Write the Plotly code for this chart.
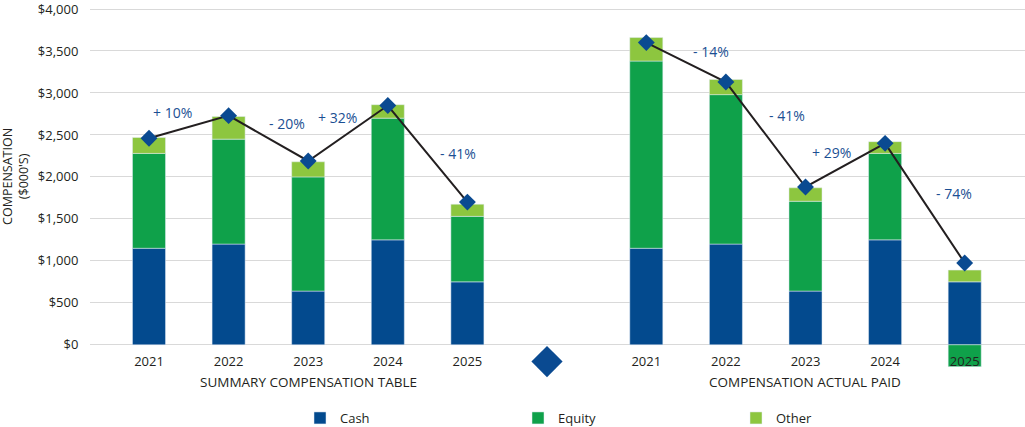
import plotly.graph_objects as go

# ---------------- data ----------------
years = ["2021", "2022", "2023", "2024", "2025"]
gap_category = " "

sct_cash = [1150, 1200, 640, 1250, 750]
sct_equity = [1130, 1250, 1360, 1450, 780]
sct_other = [190, 270, 180, 160, 145]
sct_total_marker = [2460, 2730, 2190, 2850, 1700]
sct_change_labels = ["+ 10%", "- 20%", "+ 32%", "- 41%"]

cap_cash = [1150, 1200, 640, 1250, 750]
cap_equity = [2230, 1780, 1070, 1030, -260]
cap_other = [280, 180, 160, 140, 140]
cap_total_marker = [3600, 3130, 1880, 2400, 975]
cap_change_labels = ["- 14%", "- 41%", "+ 29%", "- 74%"]

separator_marker_value = [-200]

group_labels = ["SUMMARY COMPENSATION TABLE", "COMPENSATION ACTUAL PAID"]
y_ticks = [0, 500, 1000, 1500, 2000, 2500, 3000, 3500, 4000]
y_tick_text = ["$" + format(v, ",") for v in y_ticks]

# ---------------- styles ----------------
C_CASH = "#034a8e"
C_EQUITY = "#0fa14a"
C_OTHER = "#8dc63f"
C_DIAMOND = "#0a4a91"
C_LINE = "#231f20"
C_LABEL = "#1b4f93"
FONT = "Open Sans"
TXT = "#231f20"

W, H = 1025, 427
M_L, M_R, M_T, M_B = 90, 0, 8, 57
Y_MIN, Y_MAX = -300, 4012
split = 0.5348

# pixel offsets of the change labels relative to segment midpoints
sct_label_shift = [(-16, 14), (19, 15), (-11, 16), (30, 0)]
cap_label_shift = [(25, 11), (21, 19), (-14, 13), (29, 10)]

fig = go.Figure()

def add_bars(x, cash, equity, other, xa, show):
    fig.add_trace(go.Bar(x=x, y=cash, name="Cash", marker_color=C_CASH,
                         xaxis=xa, yaxis="y", showlegend=show, legendgroup="c"))
    fig.add_trace(go.Bar(x=x, y=equity, name="Equity", marker_color=C_EQUITY,
                         xaxis=xa, yaxis="y", showlegend=show, legendgroup="e"))
    fig.add_trace(go.Bar(x=x, y=other, name="Other", marker_color=C_OTHER,
                         xaxis=xa, yaxis="y", showlegend=show, legendgroup="o"))

add_bars(years, sct_cash, sct_equity, sct_other, "x", True)
add_bars(years, cap_cash, cap_equity, cap_other, "x2", False)

line_style = dict(mode="lines+markers", line=dict(color=C_LINE, width=2),
                  marker=dict(symbol="diamond", size=13, color=C_DIAMOND),
                  showlegend=False, hoverinfo="skip")
fig.add_trace(go.Scatter(x=years, y=sct_total_marker, xaxis="x", yaxis="y", **line_style))
fig.add_trace(go.Scatter(x=years, y=cap_total_marker, xaxis="x2", yaxis="y", **line_style))
fig.add_trace(go.Scatter(x=[gap_category], y=separator_marker_value, xaxis="x", yaxis="y",
                         mode="markers", marker=dict(symbol="diamond", size=24, color=C_DIAMOND),
                         showlegend=False, cliponaxis=False, hoverinfo="skip"))

annotations = []
for xref, vals, labels, shifts in [("x", sct_total_marker, sct_change_labels, sct_label_shift),
                                   ("x2", cap_total_marker, cap_change_labels, cap_label_shift)]:
    for i, lab in enumerate(labels):
        annotations.append(dict(x=i + 0.5, y=(vals[i] + vals[i + 1]) / 2, xref=xref, yref="y",
                                text=lab, showarrow=False, xshift=shifts[i][0], yshift=shifts[i][1],
                                font=dict(family=FONT, size=14, color=C_LABEL)))

for xref, lab in zip(["x", "x2"], group_labels):
    annotations.append(dict(x=2, y=0, xref=xref, yref="y", yanchor="top", text=lab,
                            showarrow=False, yshift=-26,
                            font=dict(family=FONT, size=13.5, color=TXT)))

annotations.append(dict(x=-74 / (W - M_L - M_R), y=2000, xref="paper", yref="y",
                        xanchor="center", yanchor="middle",
                        text="COMPENSATION<br>($000'S)", textangle=-90, showarrow=False,
                        font=dict(family=FONT, size=12.5, color=TXT)))

zero_pos = (0 - Y_MIN) / (Y_MAX - Y_MIN)
px_per_cat = 79.6
plot_w = W - M_L - M_R
left_w = split * plot_w
right_w = plot_w - left_w
first_center_left = 149 - M_L
first_center_right = 646.3 - (M_L + left_w)

xa_common = dict(type="category", showgrid=False, zeroline=False, showline=False,
                 ticks="outside", ticklen=5, tickcolor="rgba(0,0,0,0)", automargin=False,
                 tickfont=dict(family=FONT, size=13, color=TXT), anchor="free",
                 position=zero_pos, layer="above traces")

fig.update_layout(
    width=W, height=H, margin=dict(l=M_L, r=M_R, t=M_T, b=M_B, autoexpand=False),
    paper_bgcolor="white", plot_bgcolor="white",
    barmode="relative", bargap=0.585,
    xaxis=dict(domain=[0, split], categoryorder="array",
               categoryarray=years + [gap_category],
               range=[-first_center_left / px_per_cat,
                      (left_w - first_center_left) / px_per_cat], **xa_common),
    xaxis2=dict(domain=[split, 1], categoryorder="array", categoryarray=years,
                range=[-first_center_right / px_per_cat,
                       (right_w - first_center_right) / px_per_cat], **xa_common),
    yaxis=dict(range=[Y_MIN, Y_MAX], tickmode="array", tickvals=y_ticks, ticktext=y_tick_text,
               showgrid=True, gridcolor="#d9d9d9", gridwidth=1, zeroline=True,
               zerolinecolor="#d9d9d9", zerolinewidth=1, ticks="outside", ticklen=8,
               tickcolor="rgba(0,0,0,0)", automargin=False, ticklabeloverflow="allow",
               tickfont=dict(family=FONT, size=13, color=TXT)),
    legend=dict(orientation="h", x=(300 - M_L) / plot_w, xanchor="left",
                yref="container", y=(H - 418) / H, yanchor="middle", entrywidth=173,
                font=dict(family=FONT, size=13, color=TXT), itemwidth=30, traceorder="normal"),
    annotations=annotations,
)

fig.write_html("out.html", config={"displayModeBar": False},
               post_script="document.body.style.margin='0';")
